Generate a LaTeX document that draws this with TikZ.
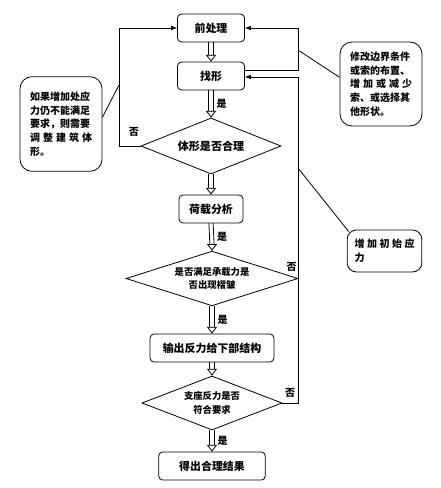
\documentclass[tikz,border=0pt]{standalone}
\usepackage{fontspec}
\setmainfont{Noto Sans CJK SC}
\usetikzlibrary{shapes.geometric, arrows.meta}

% hollow double arrow: #1 label, #2 from, #3 to
\newcommand{\dblarrow}[3][]{%
  \draw ([xshift=-1.6pt]#2) -- ([xshift=-1.6pt, yshift=4.6pt]#3);
  \draw ([xshift=1.6pt]#2) -- ([xshift=1.6pt, yshift=4.6pt]#3);
  \draw[dbltip] ([yshift=5pt]#3) -- (#3);
  \if\relax\detokenize{#1}\relax\else
    \path (#2) -- node[tag, right=3pt] {#1} (#3);
  \fi}

\begin{document}
\begin{tikzpicture}[x=0.75pt, y=-0.75pt, >={Latex[length=4.5pt,width=3.5pt]}, line width=0.6pt,
  stepbox/.style={draw, rectangle, rounded corners=3pt, minimum height=21pt, font=\fontsize{8.2}{10}\selectfont\bfseries},
  decision/.style={draw, diamond, aspect=3, inner sep=0pt, align=center, font=\fontsize{7}{10}\selectfont\bfseries},
  note/.style={draw, rectangle, rounded corners=9pt, align=left, font=\fontsize{7.5}{10.3}\selectfont\bfseries},
  dbltip/.style={-{Triangle[open, length=5pt, width=7.5pt]}},
  tag/.style={font=\fontsize{7.5}{9}\selectfont\bfseries, inner sep=1pt}]
\useasboundingbox (0,0) rectangle (441,488);

\node[stepbox, minimum width=50.25pt] (pre) at (211,28) {前处理};
\node[stepbox, minimum width=50.25pt] (find) at (211,76) {找形};
\node[decision, minimum width=105pt, minimum height=42pt, font=\fontsize{8.3}{10}\selectfont\bfseries] (shape) at (211,146) {体形是否合理};
\node[stepbox, minimum width=48pt] (load) at (211,209) {荷载分析};
\node[decision, minimum width=129pt, minimum height=41pt] (bear) at (212,278.5) {是否满足承载力是\\否出现褶皱};
\node[stepbox, minimum width=93pt] (out) at (212,348) {输出反力给下部结构};
\node[decision, minimum width=105pt, minimum height=40.5pt] (supp) at (212,403) {支座反力是否\\符合要求};
\node[stepbox, minimum width=80pt] (res) at (212,466) {得出合理结果};

\node[note, text width=46.5pt, inner xsep=7.5pt, minimum height=71pt] (lnote) at (61,124)
  {如果增加处应\\力仍不能满足\\要求，则需要\\\makebox[\hsize]{调\hfill 整\hfill 建\hfill 筑\hfill 体}\\形。};
\node[note, text width=46.5pt, inner xsep=7.5pt, minimum height=63pt] (rnote) at (381,84)
  {修改边界条件\\或索的布置、\\\makebox[\hsize]{增\hfill 加\hfill 或\hfill 减\hfill 少}\\索、或选择其\\他形状。};
\node[note, text width=45pt, inner xsep=5.5pt, minimum height=31.5pt, rounded corners=7pt] (pnote) at (384.5,251)
  {\makebox[\hsize]{增\hfill 加\hfill 初\hfill 始\hfill 应}\\力};

\coordinate (lx) at (119,0);
\coordinate (rx) at (298,0);
\coordinate (lp) at (119,85);
\coordinate (rp) at (298,50);
\coordinate (rq) at (298,168);

% main column
\dblarrow{pre.south}{find.north}
\dblarrow[是]{find.south}{shape.north}
\dblarrow{shape.south}{load.north}
\dblarrow[是]{load.south}{bear.north}
\dblarrow[是]{bear.south}{out.north}
\dblarrow{out.south}{supp.north}
\dblarrow[是]{supp.south}{res.north}

% loops
\draw[->] (shape.west) -- node[tag, above=6pt, xshift=3pt] {否} (shape.west -| lx) |- (pre.west);
\draw[->] ([yshift=4.5pt]find.east) -| (rx |- pre.east) -- (pre.east);
\draw[->] (supp.east) -- node[tag, above=3pt] {否} (supp.east -| rx) |- ([yshift=-0.75pt]find.east);
\node[tag, anchor=south east, yshift=4pt] at (bear.east) {否};

\draw ([yshift=5pt]lnote.east) -- (lp);
\draw ([yshift=5pt]rnote.west) -- (rp);
\draw ([shift={(1.5pt,-1.5pt)}]pnote.north west) -- (rq);
\end{tikzpicture}
\end{document}
